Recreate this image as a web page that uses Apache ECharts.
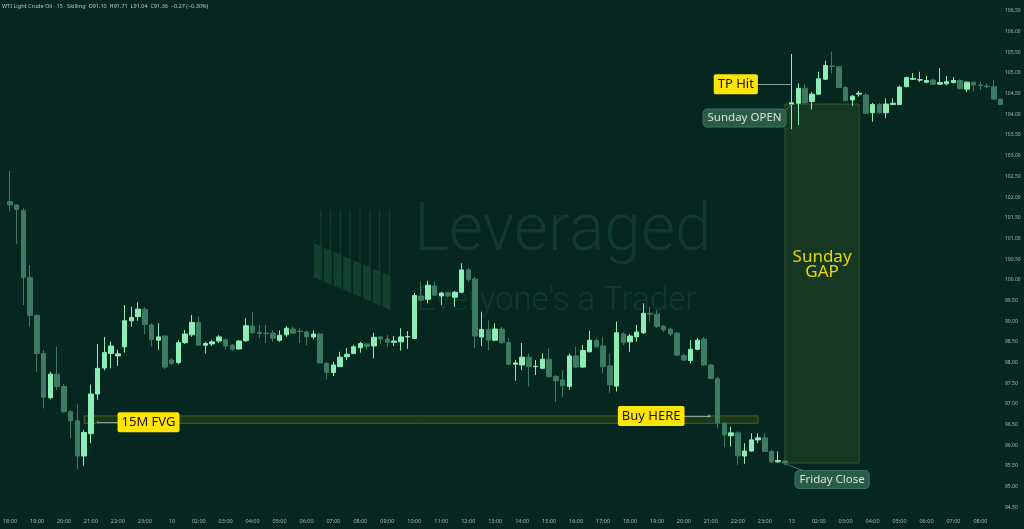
<!DOCTYPE html>
<html>
<head>
<meta charset="utf-8">
<script src="https://cdn.jsdelivr.net/npm/echarts@6/dist/echarts.min.js"></script>
<style>
html,body{margin:0;padding:0;background:#05271f;}
#chart{width:1024px;height:529px;}
</style>
</head>
<body>
<div id="chart"></div>
<script>
// ---- time axis (15-minute bars) ----
const sessionDays = ['9', '10', '13'];
const sessionStartHour = [18, 1, 1];
const sessionEndHour = [23, 23, 8];

// ---- OHLC values (15 min WTI) ----
const openPrices = [
101.89,101.81,101.67,100.06,99.14,98.22,97.15,97.72,97.42,96.81,96.59,95.74,96.28,97.24,97.87,98.22,98.16,98.38,99.01,99.11,
99.29,98.91,98.54,98.64,98.06,98.00,98.48,98.67,98.97,98.42,98.45,98.52,98.55,98.42,98.33,98.53,98.88,98.73,98.71,98.71,
98.54,98.67,98.81,98.76,98.74,98.62,98.69,97.98,97.76,97.90,98.14,98.22,98.36,98.45,98.40,98.62,98.57,98.49,98.50,98.62,
98.58,99.61,99.53,99.85,99.61,99.69,99.58,99.70,100.24,100.02,98.62,98.80,98.54,98.81,98.48,97.96,97.94,98.13,97.90,97.86,
98.08,97.66,97.58,97.42,98.16,97.89,98.26,98.53,98.40,97.92,97.43,98.69,98.50,98.62,98.72,99.19,99.17,98.88,98.81,98.71,
98.17,98.05,98.32,98.57,97.94,97.61,96.53,96.23,96.30,95.74,95.86,96.13,96.18,95.85,95.60,95.62,
104.25,104.27,104.63,104.31,104.49,104.85,105.17,105.15,104.65,104.35,104.49,104.47,104.04,104.24,104.04,104.24,104.24,104.67,104.85,104.83,
104.78,104.83,104.73,104.74,104.77,104.82,104.61,104.78,104.71,104.68,104.67,104.37];
const highPrices = [
102.63,101.83,101.73,100.36,99.16,98.30,97.78,98.38,97.48,96.85,96.99,96.37,97.47,98.45,98.62,98.51,98.31,99.39,99.35,99.46,
99.34,98.95,98.95,98.66,98.11,98.54,98.79,99.15,99.11,98.50,98.54,98.66,98.59,98.45,98.54,99.07,99.23,98.91,98.91,98.78,
98.78,98.88,98.87,98.83,98.78,98.78,98.71,98.01,98.02,98.26,98.35,98.42,98.50,98.46,98.72,98.64,98.67,98.64,98.83,98.76,
99.68,99.96,99.98,99.96,99.71,99.71,99.73,100.40,100.29,100.07,99.23,99.03,98.95,98.86,98.59,98.06,98.47,98.22,98.06,98.22,
98.34,97.70,97.82,98.22,98.38,98.42,98.77,98.59,98.62,98.22,98.99,98.74,98.69,98.91,99.43,99.35,99.27,98.91,98.83,98.74,
98.22,98.54,98.59,98.62,97.96,97.65,96.56,96.45,96.34,96.05,96.29,96.29,96.29,95.89,95.85,95.64,
105.46,104.75,104.73,104.54,105.03,105.30,105.52,105.17,104.69,104.47,104.57,104.52,104.28,104.28,104.39,104.39,104.69,104.91,105.00,105.03,
104.93,104.86,105.12,104.93,104.90,104.85,104.79,104.79,104.79,104.75,104.83,104.37];
const lowPrices = [
101.65,100.87,99.39,98.87,97.78,96.89,97.11,97.34,96.79,96.17,95.42,95.50,96.05,97.10,97.81,97.86,97.92,98.24,98.87,99.01,
98.69,98.38,98.31,97.84,97.94,97.96,98.45,98.62,98.40,98.22,98.40,98.47,98.32,98.28,98.31,98.50,98.69,98.59,98.47,98.50,
98.50,98.62,98.69,98.47,98.42,98.56,97.98,97.59,97.67,97.89,98.06,98.20,98.24,98.31,98.10,98.45,98.37,98.40,98.29,98.33,
98.57,99.49,99.43,99.61,99.39,99.58,99.35,99.68,99.95,98.35,98.40,98.30,98.52,98.45,97.94,97.56,97.82,97.42,97.70,97.84,
97.63,97.05,97.17,97.34,97.87,97.87,98.25,98.36,97.74,97.26,97.30,98.42,98.26,98.50,98.69,98.99,98.84,98.74,98.64,98.16,
98.04,97.98,98.30,97.92,97.60,96.41,95.95,95.97,95.52,95.55,95.84,96.05,95.84,95.57,95.57,95.52,
103.64,103.74,104.25,104.12,104.47,104.83,104.99,104.64,104.32,104.20,104.43,104.01,103.82,104.01,103.91,104.23,104.23,104.66,104.83,104.78,
104.75,104.71,104.72,104.70,104.75,104.61,104.54,104.55,104.59,104.63,104.36,104.23];
const closePrices = [
101.81,101.70,100.06,99.14,98.22,97.16,97.72,97.42,96.81,96.59,95.74,96.31,97.24,97.86,98.24,98.40,98.21,99.01,99.09,99.29,
98.92,98.56,98.62,97.89,97.98,98.48,98.69,98.97,98.42,98.46,98.50,98.62,98.40,98.32,98.52,98.89,98.72,98.70,98.70,98.59,
98.66,98.83,98.71,98.75,98.62,98.69,97.99,97.76,97.94,98.13,98.20,98.38,98.46,98.39,98.61,98.57,98.49,98.52,98.62,98.63,
99.62,99.51,99.87,99.63,99.68,99.61,99.70,100.24,100.01,98.64,98.80,98.54,98.81,98.48,97.96,97.99,98.13,97.90,97.91,98.08,
97.66,97.56,97.44,98.16,97.89,98.29,98.54,98.38,97.90,97.46,98.72,98.48,98.64,98.74,99.19,99.17,98.87,98.79,98.69,98.18,
98.06,98.32,98.54,97.94,97.62,96.54,96.25,96.30,95.74,95.86,96.13,96.18,95.85,95.60,95.63,95.57,
104.28,104.63,104.28,104.49,104.86,105.18,105.16,104.65,104.33,104.44,104.51,104.03,104.24,104.04,104.25,104.27,104.66,104.89,104.87,104.84,
104.82,104.73,104.77,104.79,104.82,104.62,104.78,104.71,104.70,104.67,104.37,104.24];

// ---- annotation levels ----
const fvgZone = [96.71, 96.53];          // 15M FVG band
const gapZone = [104.25, 95.57];         // Sunday open / Friday close
const yTicks = {min: 94.5, max: 106.5, step: 0.5};

// build categories
const categories = [];
const axisText = [];
for (let s = 0; s < sessionDays.length; s++) {
  for (let h = sessionStartHour[s]; h <= sessionEndHour[s]; h++) {
    for (const m of ['00', '15', '30', '45']) {
      const hh = (h < 10 ? '0' : '') + h;
      categories.push(sessionDays[s] + ' ' + hh + ':' + m);
      if (m !== '00') axisText.push('');
      else if (s > 0 && h === sessionStartHour[s]) axisText.push(sessionDays[s]);
      else axisText.push(hh + ':00');
    }
  }
}
const ohlc = openPrices.map((o, i) => [o, closePrices[i], lowPrices[i], highPrices[i]]);

const bull = '#8cedb6', bear = '#3d7b62';
const yellowLabel = {
  show: true, position: 'inside', color: '#141414', backgroundColor: '#ffe500',
  padding: [4, 4, 3, 4], borderRadius: 2, fontSize: 13, fontFamily: 'Noto Sans'
};
const darkLabel = {
  show: true, position: 'inside', color: '#cfe6d8', backgroundColor: '#2b5a48',
  borderColor: '#3f7361', borderWidth: 1,
  padding: [3, 4, 2, 4], borderRadius: 4, fontSize: 11.5, fontFamily: 'Noto Sans'
};

// watermark logo
const logo = [];
for (let i = 0; i < 8; i++) {
  const x0 = 314 + i * 9.8, x1 = x0 + 8;
  const t0 = 243.3 + (x0 - 314) * 0.428, t1 = 243.3 + (x1 - 314) * 0.428;
  logo.push({type: 'polygon', z: 0, silent: true,
    shape: {points: [[x0, t0], [x1, t1], [x1, t1 + 34], [x0, t0 + 34]]},
    style: {fill: '#12412f'}});
  const lx = x1 - 1.2;
  logo.push({type: 'line', z: 0, silent: true,
    shape: {x1: lx, y1: 210, x2: lx, y2: 243.3 + (lx - 314) * 0.428},
    style: {stroke: '#134131', lineWidth: 1}});
}

const chart = echarts.init(document.getElementById('chart'), null, {renderer: 'canvas'});
chart.setOption({
  backgroundColor: '#05271f',
  animation: false,
  graphic: [
    {type: 'text', left: 2, top: 3, z: 10, silent: true,
     style: {text: 'WTI Light Crude Oil · 15 · Skilling  O91.10  H91.71  L91.04  C91.36  −0.27 (−0.30%)',
             fill: '#b9c6c1', font: '5.5px "Noto Sans"'}},
    {type: 'text', left: 414, top: 200, z: 0, silent: true,
     style: {text: 'Leveraged', fill: '#0f3a2c', font: '300 66px Roboto'}},
    {type: 'text', left: 417, top: 285, z: 0, silent: true,
     style: {text: "Everyone's a Trader", fill: '#0f3a2c', font: '300 33px Roboto'}},
    ...logo
  ],
  grid: {left: 0, top: 11, width: 1004, height: 496.3},
  xAxis: {
    type: 'category', data: categories, boundaryGap: true,
    axisLine: {show: false}, axisTick: {show: false}, splitLine: {show: false},
    axisLabel: {
      interval: (idx) => axisText[idx] !== '',
      formatter: (v, idx) => axisText[idx],
      color: '#aab6b2', fontSize: 5.5, margin: 11, fontFamily: 'Noto Sans'
    }
  },
  yAxis: {
    type: 'value', position: 'right', min: yTicks.min, max: yTicks.max, interval: yTicks.step,
    axisLine: {show: false}, axisTick: {show: false}, splitLine: {show: false},
    axisLabel: {formatter: (v) => v.toFixed(2), color: '#aab6b2', fontSize: 5, margin: 1,
                align: 'left', fontFamily: 'Noto Sans'}
  },
  series: [{
    type: 'candlestick', data: ohlc, barWidth: 5,
    itemStyle: {color: bull, color0: bear, borderColor: bull, borderColor0: bear, borderWidth: 1},
    markArea: {
      silent: true,
      data: [
        [{coord: [11, fvgZone[0]],
          itemStyle: {color: 'rgba(70,85,20,0.35)', borderColor: 'rgba(95,110,30,0.75)', borderWidth: 1}},
         {coord: [111, fvgZone[1]]}],
        [{coord: [115, gapZone[0]],
          itemStyle: {color: 'rgba(45,75,35,0.45)', borderColor: 'rgba(80,100,35,0.7)', borderWidth: 1},
          label: {show: true, position: 'inside', formatter: 'Sunday\nGAP', color: '#e8d700',
                  fontSize: 17, lineHeight: 15, offset: [0, -19], fontFamily: 'Noto Sans'}},
         {coord: [126, gapZone[1]]}]
      ]
    },
    markLine: {
      silent: true, animation: false, label: {show: false},
      lineStyle: {type: 'solid', width: 1, color: '#86a596'},
      data: [
        [{coord: [13, 96.555], symbol: 'circle', symbolSize: 2}, {coord: [17, 96.555], symbol: 'none'}],
        [{coord: [100, 96.71], symbol: 'none'}, {coord: [104, 96.71], symbol: 'arrow', symbolSize: 3}],
        [{coord: [111, 104.74], symbol: 'none'}, {coord: [116, 104.74], symbol: 'none'}],
        [{coord: [115, 104.08], symbol: 'none', lineStyle: {color: '#3f7361'}}, {coord: [116, 104.25], symbol: 'none'}],
        [{coord: [118, 95.37], symbol: 'none', lineStyle: {color: '#3f7361'}}, {coord: [115, 95.55], symbol: 'none'}]
      ]
    },
    markPoint: {
      silent: true, symbol: 'rect', symbolSize: 1, itemStyle: {color: 'rgba(0,0,0,0)'},
      data: [
        {coord: [21, 96.555], label: Object.assign({}, yellowLabel, {formatter: '15M FVG', offset: [-3, 0]})},
        {coord: [95, 96.71], label: Object.assign({}, yellowLabel, {formatter: 'Buy HERE', offset: [1, 0]})},
        {coord: [108, 104.73], label: Object.assign({}, yellowLabel, {formatter: 'TP Hit', offset: [-2, 0]})},
        {coord: [109, 103.91], label: Object.assign({}, darkLabel, {formatter: 'Sunday OPEN'})},
        {coord: [122, 95.17], label: Object.assign({}, darkLabel, {formatter: 'Friday Close'})}
      ]
    }
  }]
});
</script>
</body>
</html>
